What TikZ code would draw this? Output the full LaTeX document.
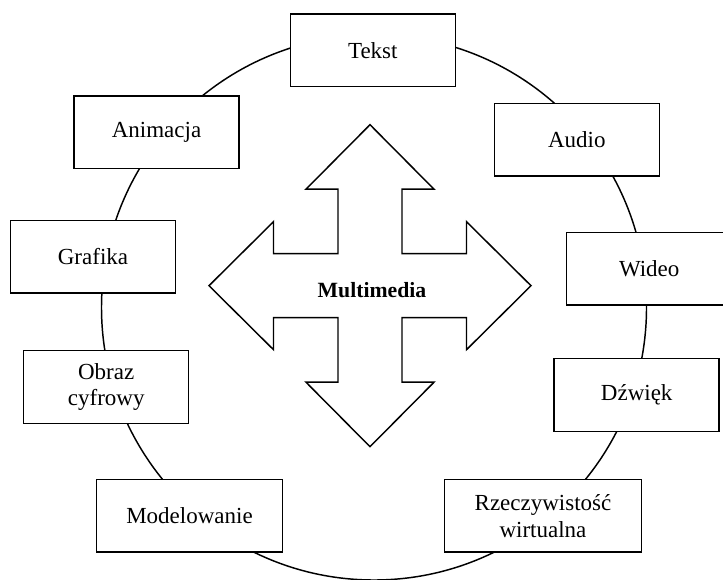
\documentclass[tikz,border=0pt]{standalone}
\usepackage{fontspec}
\setmainfont{Liberation Serif}
\tikzset{
  kreska/.style={line width=1.1pt,line join=miter},
  ramka/.style={kreska,draw,fill=white,align=center,inner xsep=22.5pt,
    minimum width=123.75pt,minimum height=54.4pt,
    font=\fontsize{17.25pt}{20pt}\selectfont},
}
\begin{document}
\begin{tikzpicture}[x=0.75pt,y=-0.75pt]
\useasboundingbox (0,0) rectangle (723,580);
% 圆
\draw[kreska] (374,307.5) circle [radius=272.5];
% 十字箭头
\begin{scope}[shift={(370,285.7)}]
\draw[kreska] (0,-161) -- (64,-96.5) -- (32,-96.5) -- (32,-32) -- (96.5,-32) -- (96.5,-64)
  -- (161,0) -- (96.5,64) -- (96.5,32) -- (32,32) -- (32,96.5) -- (64,96.5)
  -- (0,161) -- (-64,96.5) -- (-32,96.5) -- (-32,32) -- (-96.5,32) -- (-96.5,64)
  -- (-161,0) -- (-96.5,-64) -- (-96.5,-32) -- (-32,-32) -- (-32,-96.5) -- (-64,-96.5) -- cycle;
\end{scope}
\node[font=\fontsize{16.3pt}{19pt}\selectfont\bfseries] (mm) at (372,290) {Multimedia};
% 方框
\node[ramka] (tekst) at (372.8,50.5) {Tekst};
\node[ramka] (animacja) at (156.5,132.5) {Animacja};
\node[ramka] (audio) at (576.8,139.7) {Audio};
\node[ramka] (grafika) at (93,256.7) {Grafika};
\node[ramka] (wideo) at (649.2,268.8) {Wideo};
\node[ramka] (obraz) at (106.2,387) {Obraz\\cyfrowy};
\node[ramka] (dzwiek) at (636.7,395) {Dźwięk};
\node[ramka] (modelowanie) at (189.5,515.8) {Modelowanie};
\node[ramka] (vr) at (543,515.8) {Rzeczywistość\\wirtualna};
\end{tikzpicture}
\end{document}
